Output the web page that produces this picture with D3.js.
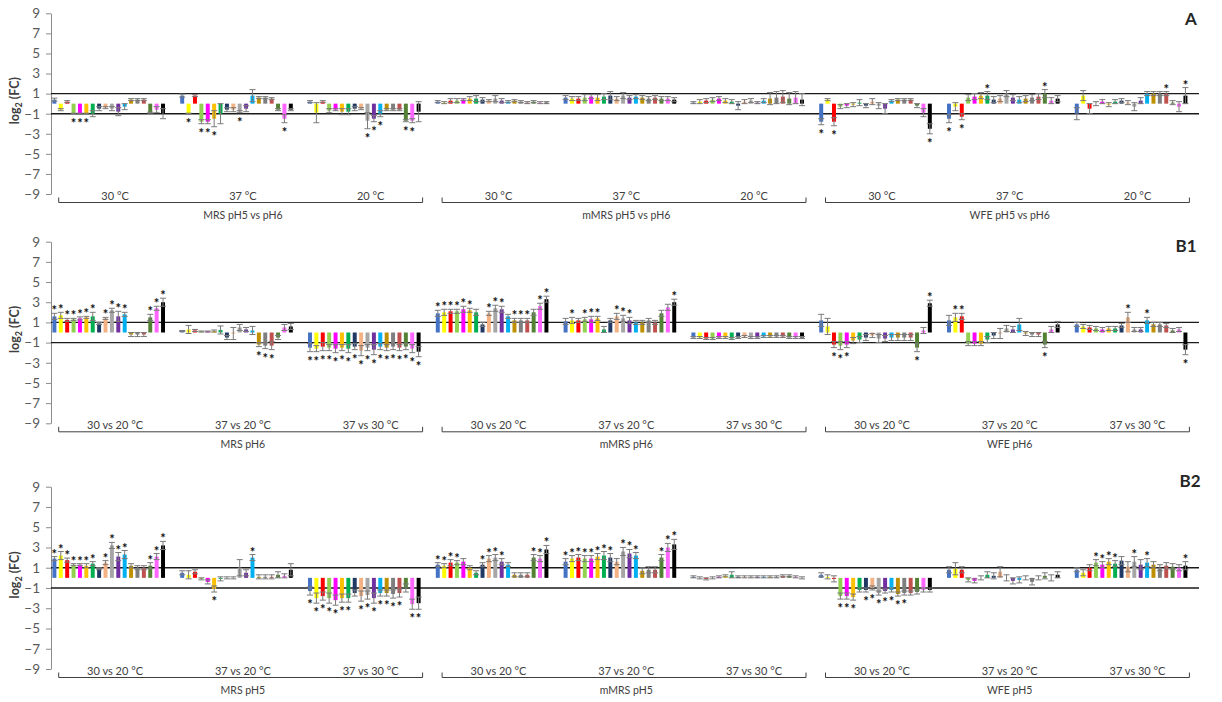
<!DOCTYPE html>
<html>
<head>
<meta charset="utf-8">
<script src="https://cdn.jsdelivr.net/npm/d3@7"></script>
<style>
  body { margin: 0; background: #fff; }
  svg { display: block; }
  text { font-family: Lato, "Liberation Sans", Arial, sans-serif; }
</style>
</head>
<body>
<svg id="chart" width="1222" height="702"></svg>
<script>
// ---- series colours (18 bars per condition) ----
const seriesColors = [
  "#4472C4", "#FFFF00", "#FF0000", "#92D050", "#FF00FF", "#FFC000",
  "#00B050", "#1F3864", "#F4B183", "#A6A6A6", "#7030A0", "#00B0F0",
  "#BF9000", "#7F7F7F", "#C0504D", "#548235", "#FF66FF", "#000000"
];

const yTicks = [9, 7, 5, 3, 1, -1, -3, -5, -7, -9];
const panelNames = ["A", "B1", "B2"];

const tempLabelsA = ["30 °C", "37 °C", "20 °C"];
const tempLabelsB = ["30 vs 20 °C", "37 vs 20 °C", "37 vs 30 °C"];
const mediaA  = ["MRS pH5 vs pH6", "mMRS pH5 vs pH6", "WFE pH5 vs pH6"];
const mediaB1 = ["MRS pH6", "mMRS pH6", "WFE pH6"];
const mediaB2 = ["MRS pH5", "mMRS pH5", "WFE pH5"];

// ---- log2 fold changes: 9 conditions x 18 series per panel ----
const valuesA = [
  [0.4,-0.6,0.2,-1.0,-1.0,-1.0,-1.0,-0.5,-0.4,-0.5,-0.8,-0.3,0.4,0.4,0.4,-0.9,-0.6,-1.0],
  [0.8,-1.0,0.8,-1.8,-1.8,-1.5,-1.0,-0.6,-0.6,-0.8,-0.5,0.8,0.6,0.6,0.5,-0.6,-1.5,-0.6],
  [0.2,-0.9,0.2,-0.7,-0.6,-0.8,-0.8,-0.5,-0.5,-1.7,-1.5,-1.0,-0.6,-0.6,-0.6,-1.7,-1.7,-0.8],
  [0.2,0.1,0.3,0.3,0.4,0.5,0.5,0.4,0.3,0.5,0.3,0.2,0.3,0.2,0.1,0.2,0.1,0.1],
  [0.6,0.5,0.5,0.6,0.7,0.6,0.7,0.8,0.5,0.8,0.6,0.7,0.6,0.5,0.6,0.5,0.5,0.4],
  [0.1,0.2,0.3,0.4,0.5,0.3,0.2,-0.2,0.2,0.3,0.1,0.3,0.5,0.6,0.7,0.5,0.6,0.4],
  [-1.8,0.4,-1.8,-0.3,-0.2,-0.1,0.1,-0.2,0.2,-0.2,-0.5,0.3,0.4,0.4,0.4,-0.2,-0.9,-2.5],
  [-1.5,-0.3,-1.3,0.6,0.7,0.8,0.8,0.4,0.5,1.0,0.6,0.4,0.5,0.6,0.7,1.0,0.3,0.5],
  [-1.0,0.8,-0.5,0.0,0.2,-0.1,0.2,0.3,0.1,-0.3,0.3,1.0,1.0,1.0,1.0,0.1,-0.3,0.8]
];
const errorsA = [
  [0.15,0.1,0.1,0.05,0.05,0.05,0.3,0.2,0.1,0.2,0.4,0.3,0.1,0.1,0.1,0.05,0.3,0.5],
  [0.15,0.05,0.1,0.2,0.2,0.8,1.0,0.2,0.2,0.1,0.3,0.6,0.1,0.1,0.1,0.1,0.4,0.1],
  [0.1,1.0,0.1,0.2,0.1,0.3,0.3,0.2,0.1,0.8,0.3,0.3,0.1,0.1,0.1,0.1,0.2,1.0],
  [0.1,0.1,0.2,0.2,0.1,0.2,0.3,0.2,0.1,0.3,0.2,0.1,0.1,0.1,0.1,0.1,0.1,0.1],
  [0.2,0.2,0.2,0.3,0.2,0.3,0.3,0.4,0.2,0.3,0.2,0.2,0.2,0.2,0.2,0.2,0.2,0.2],
  [0.1,0.2,0.2,0.2,0.2,0.2,0.2,0.4,0.2,0.2,0.1,0.2,0.6,0.6,0.6,0.6,0.6,0.6],
  [0.3,0.1,0.4,0.2,0.2,0.2,0.3,0.2,0.3,0.3,0.5,0.1,0.1,0.1,0.1,0.2,0.4,0.5],
  [0.4,0.4,0.3,0.3,0.3,0.3,0.4,0.3,0.3,0.3,0.3,0.3,0.3,0.3,0.3,0.4,0.3,0.3],
  [0.6,0.5,0.5,0.2,0.2,0.2,0.2,0.2,0.2,0.4,0.3,0.2,0.2,0.2,0.2,0.2,0.5,0.8]
];
const starsA = [
  [0,0,0,1,1,1,0,0,0,0,0,0,0,0,0,0,0,0],
  [0,1,0,1,1,1,0,0,0,1,0,0,0,0,0,0,1,0],
  [0,0,0,0,0,0,0,0,0,1,1,1,0,0,0,1,1,0],
  [0,0,0,0,0,0,0,0,0,0,0,0,0,0,0,0,0,0],
  [0,0,0,0,0,0,0,0,0,0,0,0,0,0,0,0,0,0],
  [0,0,0,0,0,0,0,0,0,0,0,0,0,0,0,0,0,0],
  [1,0,1,0,0,0,0,0,0,0,0,0,0,0,0,0,0,1],
  [1,0,1,0,0,0,1,0,0,0,0,0,0,0,0,1,0,0],
  [0,0,0,0,0,0,0,0,0,0,0,0,0,0,1,0,0,1]
];

const valuesB1 = [
  [1.6,1.7,1.25,1.3,1.4,1.5,1.6,0.9,1.4,2.2,1.6,1.8,-0.2,-0.2,-0.2,1.5,2.4,3.0],
  [0.15,0.3,0.2,0.1,0.1,0.15,0.25,-0.5,-0.1,0.5,0.3,0.2,-1.2,-1.3,-1.3,-0.5,0.5,0.6],
  [-1.5,-1.6,-1.4,-1.5,-1.6,-1.5,-1.6,-1.4,-1.8,-1.5,-1.7,-1.4,-1.5,-1.4,-1.5,-1.4,-1.6,-1.9],
  [1.9,2.0,2.1,2.1,2.3,2.2,2.0,0.8,1.9,2.4,2.3,1.6,1.2,1.2,1.2,2.0,2.6,3.3],
  [1.1,1.2,1.2,1.3,1.3,1.4,0.3,1.2,1.6,1.4,1.2,1.0,1.0,1.2,1.0,1.9,2.5,3.0],
  [-0.5,-0.5,-0.6,-0.6,-0.5,-0.5,-0.6,-0.5,-0.4,-0.5,-0.5,-0.4,-0.4,-0.4,-0.4,-0.5,-0.5,-0.5],
  [1.2,0.6,-1.2,-1.3,-1.2,-0.8,-0.7,-0.5,-0.3,-0.6,-0.6,-0.5,-0.5,-0.5,-0.5,-1.5,0.2,2.9],
  [1.2,1.5,1.6,-1.1,-1.1,-1.1,-0.7,-0.3,-0.1,0.4,0.3,0.8,-0.1,-0.2,-0.2,-1.2,0.3,0.8],
  [0.8,0.6,0.5,0.4,0.3,0.4,0.4,0.7,1.5,0.3,0.3,1.2,0.8,0.8,0.7,0.2,0.3,-1.7]
];
const errorsB1 = [
  [0.3,0.3,0.15,0.1,0.15,0.1,0.4,0.1,0.1,0.2,0.5,0.2,0.2,0.2,0.2,0.3,0.2,0.4],
  [0.05,0.4,0.1,0.05,0.05,0.1,0.4,0.2,0.6,0.3,0.2,0.4,0.2,0.3,0.4,0.2,0.3,0.3],
  [0.4,0.3,0.4,0.3,0.4,0.3,0.4,0.3,0.5,0.3,0.5,0.3,0.3,0.3,0.3,0.3,0.4,0.5],
  [0.3,0.3,0.2,0.2,0.3,0.2,0.3,0.2,0.2,0.3,0.3,0.2,0.2,0.2,0.2,0.3,0.3,0.3],
  [0.3,0.3,0.2,0.2,0.3,0.2,0.3,0.2,0.3,0.3,0.3,0.2,0.2,0.2,0.2,0.3,0.3,0.3],
  [0.1,0.1,0.1,0.1,0.1,0.1,0.1,0.1,0.1,0.1,0.1,0.1,0.1,0.1,0.1,0.1,0.1,0.1],
  [0.6,0.8,0.3,0.4,0.3,0.3,0.3,0.3,0.2,0.4,0.3,0.3,0.3,0.3,0.3,0.4,0.3,0.3],
  [0.5,0.4,0.3,0.2,0.2,0.2,0.3,0.3,0.5,0.3,0.3,0.6,0.2,0.2,0.2,0.3,0.3,0.3],
  [0.2,0.2,0.2,0.2,0.2,0.2,0.2,0.2,0.5,0.2,0.2,0.3,0.2,0.2,0.2,0.2,0.2,0.5]
];
const starsB1 = [
  [1,1,1,1,1,1,1,0,1,1,1,1,0,0,0,1,1,1],
  [0,0,0,0,0,0,0,0,0,0,0,0,1,1,1,0,0,0],
  [1,1,1,1,1,1,1,1,1,1,1,1,1,1,1,1,1,1],
  [1,1,1,1,1,1,0,0,1,1,1,0,1,1,1,0,1,1],
  [0,1,0,1,1,1,0,0,1,1,1,0,0,0,0,0,0,1],
  [0,0,0,0,0,0,0,0,0,0,0,0,0,0,0,0,0,0],
  [0,0,1,1,1,0,0,0,0,0,0,0,0,0,0,1,0,1],
  [0,1,1,0,0,0,0,0,0,0,0,0,0,0,0,1,0,0],
  [0,0,0,0,0,0,0,0,1,0,0,1,0,0,0,0,0,1]
];

const valuesB2 = [
  [1.9,2.2,1.75,1.3,1.3,1.2,1.4,0.9,1.5,3.2,2.1,2.3,1.2,1.0,1.0,1.2,2.1,3.2],
  [0.5,0.3,0.6,-0.1,-0.4,-1.1,-0.1,0.0,0.0,1.0,0.5,2.0,0.1,0.1,0.1,0.3,0.2,0.8],
  [-1.3,-2.0,-1.8,-2.0,-2.2,-2.0,-2.0,-1.5,-1.8,-1.7,-2.0,-1.5,-1.5,-1.6,-1.5,-1.0,-2.6,-2.5],
  [1.3,1.2,1.5,1.5,1.6,1.0,0.5,1.3,1.9,2.0,1.6,1.3,0.3,0.3,0.3,2.0,1.9,2.8],
  [1.6,1.9,2.0,1.9,1.9,2.1,2.2,2.0,1.6,2.6,2.4,2.2,0.7,0.8,0.8,2.0,3.0,3.3],
  [0.1,0.0,-0.1,0.0,0.1,0.2,0.3,0.1,0.1,0.1,0.1,0.1,0.1,0.1,0.2,0.2,0.1,0.0],
  [0.3,0.1,-0.1,-1.8,-1.8,-1.9,-1.2,-1.2,-1.0,-1.5,-1.3,-1.2,-1.6,-1.5,-1.5,-1.4,-1.2,-1.2],
  [0.8,0.9,0.8,-0.2,-0.3,0.0,0.3,0.2,0.6,0.0,-0.3,-0.2,0.0,-0.4,0.0,0.2,0.0,0.3],
  [0.8,0.5,1.0,1.5,1.3,1.6,1.4,1.7,1.1,1.6,1.3,1.5,1.3,1.0,1.2,1.1,1.0,1.2]
];
const errorsB2 = [
  [0.2,0.4,0.2,0.1,0.1,0.2,0.2,0.1,0.2,0.3,0.4,0.4,0.2,0.2,0.2,0.3,0.3,0.4],
  [0.2,0.4,0.2,0.1,0.2,0.3,0.2,0.1,0.1,0.8,0.3,0.3,0.2,0.2,0.2,0.3,0.2,0.6],
  [0.4,0.5,0.4,0.5,0.5,0.4,0.4,0.3,0.5,0.4,0.5,0.3,0.3,0.4,0.4,0.4,0.5,0.6],
  [0.2,0.2,0.3,0.2,0.3,0.2,0.2,0.2,0.3,0.3,0.3,0.2,0.2,0.2,0.2,0.3,0.3,0.4],
  [0.3,0.3,0.3,0.3,0.3,0.3,0.4,0.4,0.3,0.4,0.4,0.3,0.3,0.3,0.3,0.3,0.4,0.5],
  [0.1,0.1,0.1,0.1,0.1,0.1,0.3,0.1,0.1,0.1,0.1,0.1,0.1,0.1,0.1,0.1,0.1,0.1],
  [0.2,0.2,0.3,0.3,0.3,0.3,0.2,0.2,0.2,0.2,0.2,0.2,0.2,0.2,0.2,0.2,0.2,0.2],
  [0.3,0.6,0.3,0.2,0.2,0.2,0.3,0.3,0.5,0.3,0.3,0.3,0.2,0.3,0.2,0.3,0.3,0.3],
  [0.2,0.3,0.3,0.3,0.3,0.3,0.3,0.4,0.5,0.5,0.5,0.4,0.3,0.3,0.3,0.3,0.3,0.4]
];
const starsB2 = [
  [1,1,1,1,1,1,1,0,1,1,1,1,0,0,0,1,1,1],
  [0,0,0,0,0,1,0,0,0,0,0,1,0,0,0,0,0,0],
  [1,1,1,1,1,1,1,0,1,1,1,1,1,1,1,0,1,1],
  [1,1,1,1,0,0,0,1,1,1,1,0,0,0,0,1,1,1],
  [1,1,1,1,1,1,1,1,0,1,1,1,0,0,0,1,1,1],
  [0,0,0,0,0,0,0,0,0,0,0,0,0,0,0,0,0,0],
  [0,0,0,1,1,1,0,1,1,1,1,1,1,1,0,0,0,0],
  [0,0,0,0,0,0,0,0,0,0,0,0,0,0,0,0,0,0],
  [0,0,0,1,1,1,1,0,0,1,0,1,0,0,0,0,0,1]
];

// ---- panel definitions ----
const panels = [
  { name: panelNames[0], values: valuesA,  errors: errorsA,  stars: starsA,  temps: tempLabelsA, media: mediaA,  yTop: 13.3,  yBottom: 194,   labelPos: [1191, 25] },
  { name: panelNames[1], values: valuesB1, errors: errorsB1, stars: starsB1, temps: tempLabelsB, media: mediaB1, yTop: 241.7, yBottom: 423.3, labelPos: [1186, 252] },
  { name: panelNames[2], values: valuesB2, errors: errorsB2, stars: starsB2, temps: tempLabelsB, media: mediaB2, yTop: 486.7, yBottom: 669,   labelPos: [1190, 487] }
];

const svg = d3.select("#chart");
const axisX = 51;

// condition groups and bars within a group
const groupScale = d3.scaleBand().domain(d3.range(9)).range([51.2, 1201.4]);
const slot = groupScale.bandwidth() / 20;
const barScale = d3.scaleBand().domain(d3.range(18))
  .range([0, slot * 18]).paddingInner(0.38).paddingOuter(0.19);

panels.forEach(p => {
  const y = d3.scaleLinear().domain([9, -9]).range([p.yTop, p.yBottom]);
  const g = svg.append("g");

  // y axis
  const yAxis = d3.axisLeft(y).tickValues(yTicks).tickSize(5).tickPadding(6).tickSizeOuter(0);
  const ax = g.append("g").attr("transform", `translate(${axisX},0)`).call(yAxis);
  ax.select(".domain").attr("stroke", "#8c8c8c");
  ax.selectAll(".tick line").attr("stroke", "#8c8c8c");
  ax.selectAll(".tick text").attr("fill", "#595959").attr("font-size", 13.5);

  // y title
  const yt = g.append("text")
    .attr("transform", `translate(19,${y(0.3)}) rotate(-90)`)
    .attr("text-anchor", "middle")
    .attr("font-size", 12.5).attr("font-weight", "bold").attr("fill", "#404040");
  yt.append("tspan").text("log");
  yt.append("tspan").attr("font-size", 9).attr("dy", 3).text("2");
  yt.append("tspan").attr("dy", -3).text(" (FC)");

  // threshold lines at ±1
  [1, -1].forEach(v => {
    g.append("line").attr("x1", axisX).attr("x2", 1199)
      .attr("y1", y(v)).attr("y2", y(v))
      .attr("stroke", "#1a1a1a").attr("stroke-width", 1.4);
  });

  // bars, error bars, significance marks
  p.values.forEach((vals, gi) => {
    const gx = groupScale(gi);
    const cg = g.append("g").attr("transform", `translate(${gx},0)`);
    const rows = vals.map((v, i) => ({ v, e: p.errors[gi][i], s: p.stars[gi][i], i }));

    cg.selectAll("rect").data(rows).join("rect")
      .attr("x", d => barScale(d.i))
      .attr("width", barScale.bandwidth())
      .attr("y", d => Math.min(y(0), y(d.v)))
      .attr("height", d => Math.abs(y(d.v) - y(0)))
      .attr("fill", d => seriesColors[d.i]);

    const cx = d => barScale(d.i) + barScale.bandwidth() / 2;
    const eb = cg.selectAll("g.err").data(rows).join("g").attr("class", "err")
      .attr("stroke", "#7a7a7a").attr("stroke-width", 1);
    eb.append("line").attr("x1", cx).attr("x2", cx)
      .attr("y1", d => y(d.v + d.e)).attr("y2", d => y(d.v - d.e));
    eb.append("line").attr("x1", d => cx(d) - 3).attr("x2", d => cx(d) + 3)
      .attr("y1", d => y(d.v + d.e)).attr("y2", d => y(d.v + d.e));
    eb.append("line").attr("x1", d => cx(d) - 3).attr("x2", d => cx(d) + 3)
      .attr("y1", d => y(d.v - d.e)).attr("y2", d => y(d.v - d.e));

    cg.selectAll("text.star").data(rows.filter(d => d.s)).join("text")
      .attr("class", "star")
      .attr("x", cx)
      .attr("y", d => d.v >= 0 ? y(d.v + d.e) - 5 + 7 : y(d.v - d.e) + 7 + 7)
      .attr("text-anchor", "middle")
      .attr("font-family", "'Liberation Sans', Arial, sans-serif")
      .attr("font-size", 13).attr("font-weight", "bold").attr("fill", "#111")
      .text("*");
  });

  // category labels (two levels)
  const base = p.yBottom;
  d3.range(9).forEach(gi => {
    g.append("text")
      .attr("x", groupScale(gi) + groupScale.bandwidth() / 2)
      .attr("y", base + 5.5)
      .attr("text-anchor", "middle").attr("font-size", 11).attr("fill", "#404040")
      .text(p.temps[gi % 3]);
  });
  d3.range(3).forEach(m => {
    const x0 = groupScale(m * 3) + 7.5;
    const x1 = groupScale(m * 3 + 2) + groupScale.bandwidth() - 12;
    g.append("path")
      .attr("d", `M${x0},${base + 3.5}V${base + 8.5}H${x1}V${base + 3.5}`)
      .attr("fill", "none").attr("stroke", "#404040").attr("stroke-width", 1);
    g.append("text")
      .attr("x", (groupScale(m * 3) + groupScale(m * 3 + 2) + groupScale.bandwidth()) / 2)
      .attr("y", base + 24.5)
      .attr("text-anchor", "middle").attr("font-size", 10.5).attr("fill", "#404040")
      .text(p.media[m]);
  });

  // panel letter
  g.append("text").attr("x", p.labelPos[0]).attr("y", p.labelPos[1])
    .attr("text-anchor", "middle").attr("font-size", 17).attr("font-weight", "bold")
    .attr("fill", "#262626").text(p.name);
});
</script>
</body>
</html>
